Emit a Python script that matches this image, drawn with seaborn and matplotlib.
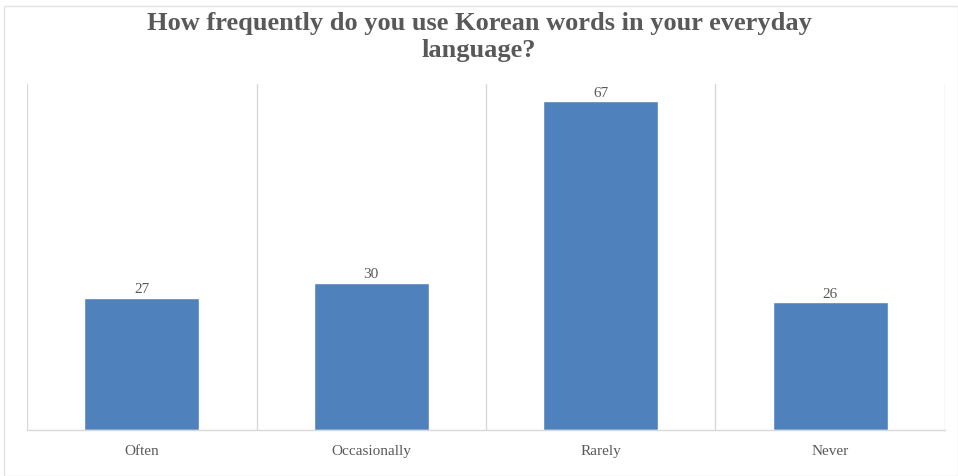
import matplotlib
matplotlib.use("Agg")
import matplotlib.pyplot as plt
from matplotlib.ticker import FixedLocator
from matplotlib.patches import Rectangle
import seaborn as sns
import pandas as pd

categories = ["Often", "Occasionally", "Rarely", "Never"]
responses = [27, 30, 67, 26]
title = "How frequently do you use Korean words in your everyday\nlanguage?"

df = pd.DataFrame({"answer": categories, "count": responses})

sns.set_theme(style="white")
plt.rcParams["font.family"] = ["Liberation Serif", "DejaVu Serif"]

fig = plt.figure(figsize=(9.58, 4.76), dpi=100)
ax = fig.add_axes([0.0282, 0.0966, 0.9582, 0.7269])

sns.barplot(data=df, x="answer", y="count", color="#4f81bd", width=0.5,
            saturation=1, ax=ax)

ax.set_xlim(-0.5, len(categories) - 0.5)
ax.set_ylim(0, 70.5)

# separators between categories
ax.xaxis.set_minor_locator(FixedLocator([i + 0.5 for i in range(-1, len(categories))]))
ax.grid(which="minor", axis="x", color="#d9d9d9", linewidth=1.0)
ax.grid(which="major", visible=False)
ax.tick_params(axis="x", which="both", length=0, pad=11, labelsize=11,
               labelcolor="#595959")
ax.set_yticks([])
ax.set_xlabel("")
ax.set_ylabel("")
for side in ["top", "right", "left"]:
    ax.spines[side].set_visible(False)
ax.spines["bottom"].set_color("#d9d9d9")
ax.spines["bottom"].set_linewidth(1.0)

for container in ax.containers:
    ax.bar_label(container, labels=[str(v) for v in responses], padding=1,
                 fontsize=11, color="#595959")

fig.suptitle(title, y=0.975, fontsize=19, fontweight="bold", color="#595959",
             linespacing=1.2)

fig.patches.append(Rectangle((0.004, 0.0), 0.996, 0.987, transform=fig.transFigure,
                             fill=False, edgecolor="#e3e3e3", linewidth=1.0))

fig.savefig("out.png", dpi=100, facecolor="white")
